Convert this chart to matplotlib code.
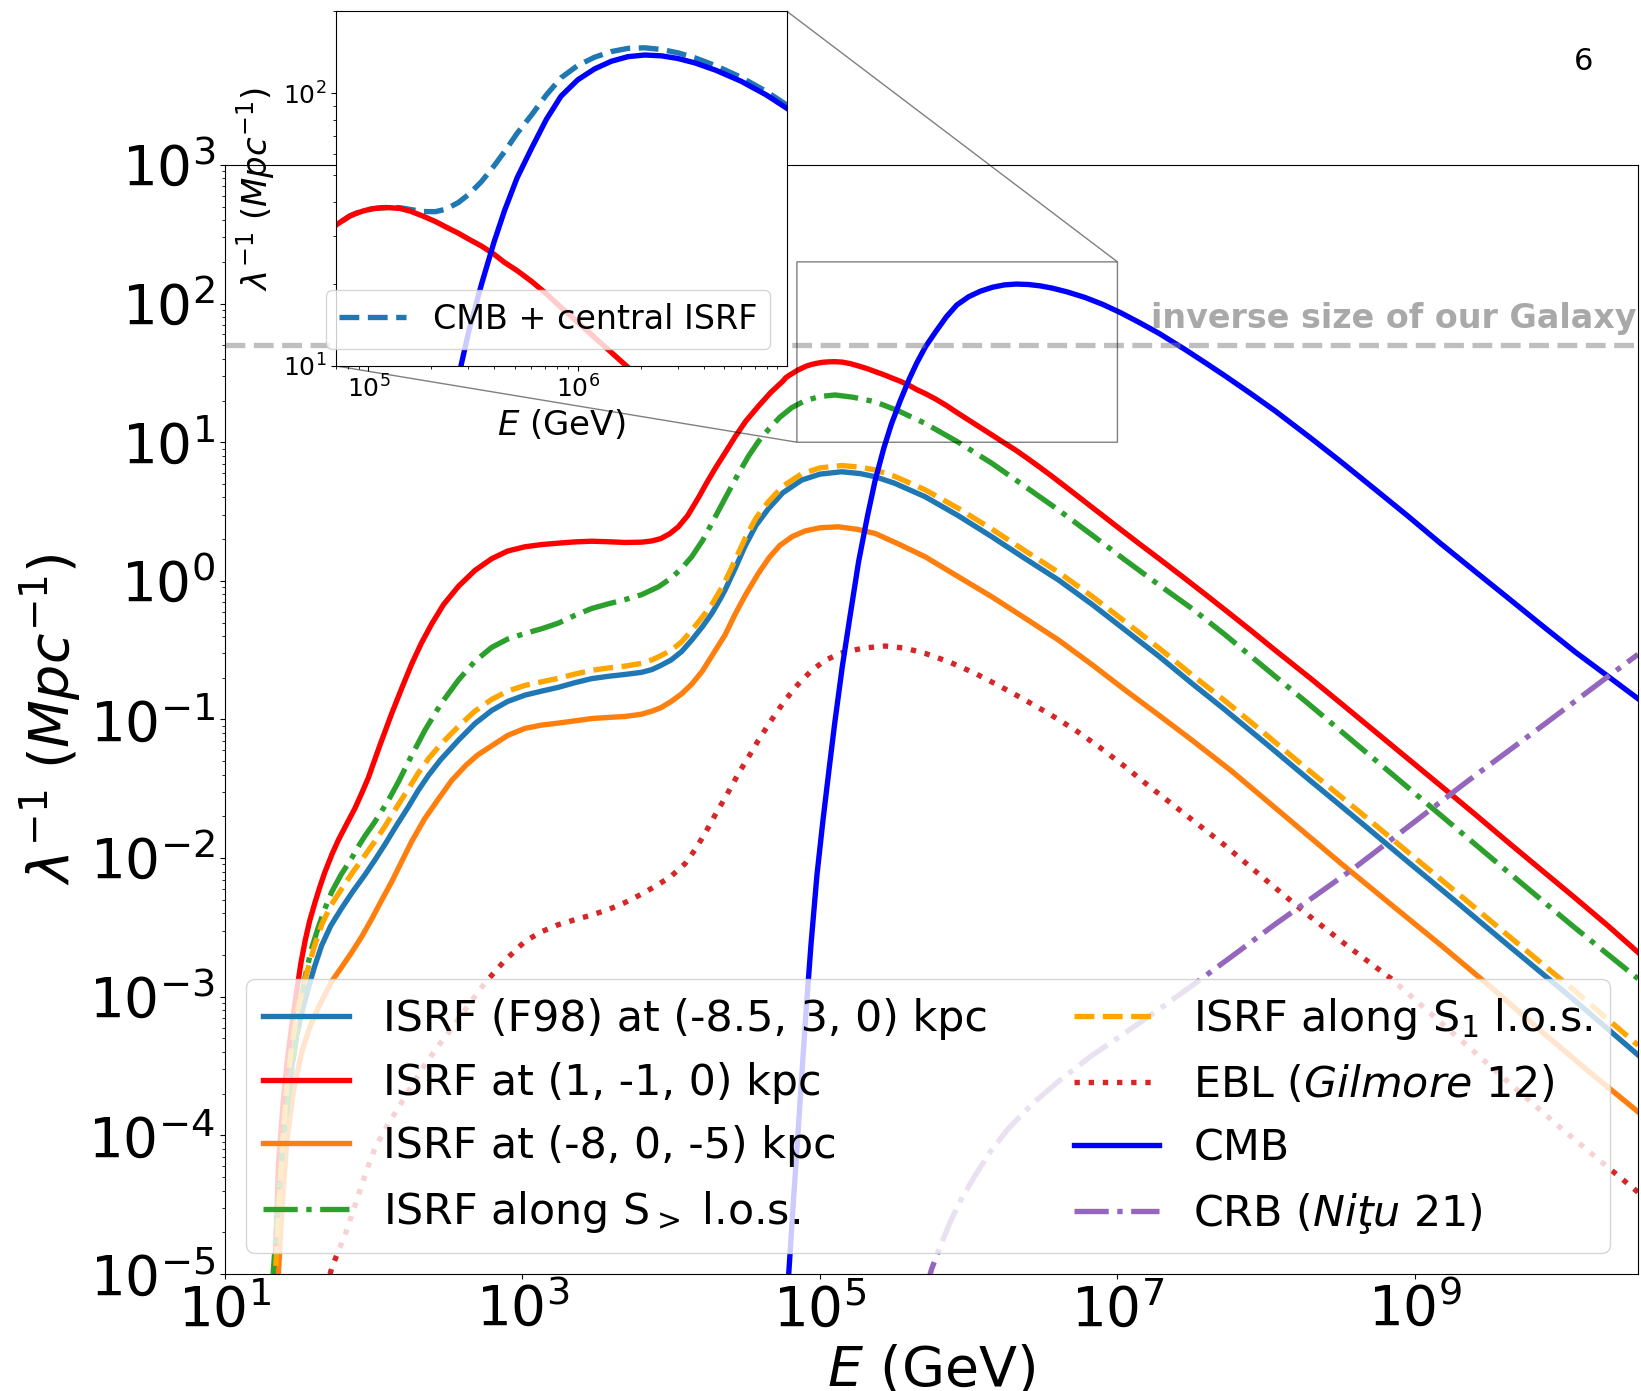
import numpy as np
import matplotlib
matplotlib.use("Agg")
import matplotlib.pyplot as plt

# ---- data: log10(E / GeV) and log10(lambda^-1 / Mpc^-1) for each photon field ----

# ISRF (F98) at (-8.5, 3, 0) kpc, and ISRF along the S1 line of sight (same energies)
loge_f98 = [1.32, 1.347, 1.370, 1.39, 1.415, 1.45, 1.482, 1.52, 1.560, 1.60,
            1.650, 1.71, 1.785, 1.86, 1.941, 2.01, 2.076, 2.15, 2.233, 2.30,
            2.37, 2.45, 2.569, 2.68, 2.793, 2.90, 3.017, 3.13, 3.241, 3.35,
            3.466, 3.58, 3.690, 3.80, 3.87, 3.93, 4.00, 4.07, 4.138, 4.21,
            4.273, 4.33, 4.362, 4.43, 4.496, 4.57, 4.653, 4.75, 4.877, 5.00,
            5.146, 5.27, 5.371, 5.50, 5.707, 5.93, 6.156, 6.38, 6.604, 6.83,
            7.052, 7.28, 7.501, 7.725, 8.00, 8.25, 8.60, 8.953, 9.30, 9.626,
            10.05, 10.5]
logl_f98 = [-5.5, -5.0, -4.53, -4.17, -3.81, -3.50, -3.28, -3.10, -2.94, -2.79,
            -2.63, -2.49, -2.36, -2.24, -2.12, -2.01, -1.90, -1.77, -1.63, -1.51,
            -1.40, -1.29, -1.15, -1.03, -0.935, -0.87, -0.824, -0.795, -0.768, -0.735,
            -0.705, -0.688, -0.675, -0.66, -0.64, -0.61, -0.57, -0.51, -0.427, -0.33,
            -0.235, -0.13, -0.066, 0.09, 0.25, 0.40, 0.52, 0.635, 0.727, 0.77,
            0.787, 0.774, 0.751, 0.705, 0.607, 0.47, 0.318, 0.16, 0.006, -0.17,
            -0.355, -0.545, -0.740, -0.932, -1.175, -1.40, -1.71, -2.027, -2.335, -2.628,
            -3.005, -3.42]
logl_s1 = [-5.35, -4.85, -4.38, -4.02, -3.66, -3.35, -3.13, -2.95, -2.79, -2.64,
           -2.48, -2.345, -2.22, -2.10, -1.98, -1.875, -1.77, -1.64, -1.50, -1.385,
           -1.28, -1.18, -1.05, -0.94, -0.855, -0.795, -0.754, -0.728, -0.703, -0.673,
           -0.645, -0.628, -0.615, -0.595, -0.57, -0.54, -0.50, -0.44, -0.357, -0.26,
           -0.17, -0.067, -0.004, 0.15, 0.305, 0.453, 0.571, 0.682, 0.772, 0.815,
           0.832, 0.82, 0.80, 0.755, 0.657, 0.523, 0.373, 0.216, 0.062, -0.112,
           -0.295, -0.485, -0.678, -0.867, -1.11, -1.335, -1.642, -1.957, -2.265, -2.558,
           -2.935, -3.35]

# central ISRF at (1, -1, 0) kpc
loge_central = [1.32, 1.336, 1.36, 1.392, 1.42, 1.45, 1.482, 1.51, 1.54, 1.57,
                1.605, 1.64, 1.672, 1.72, 1.762, 1.82, 1.874, 1.92, 1.964, 2.04,
                2.121, 2.19, 2.255, 2.32, 2.390, 2.47, 2.569, 2.68, 2.793, 2.90,
                3.017, 3.13, 3.241, 3.35, 3.466, 3.58, 3.690, 3.80, 3.87, 3.93,
                3.99, 4.048, 4.11, 4.183, 4.24, 4.295, 4.36, 4.43, 4.50, 4.586,
                4.67, 4.75,
                4.77, 4.79, 4.82, 4.85, 4.88, 4.91, 4.94, 4.98, 5.02, 5.06,
                5.10, 5.15, 5.20, 5.26, 5.32, 5.37, 5.43, 5.48, 5.54, 5.60,
                5.65, 5.71, 5.78, 5.85, 5.92, 6.00, 6.08, 6.16, 6.24, 6.32,
                6.40, 6.48, 6.56, 6.66, 6.78, 6.90, 7.02, 7.15, 7.28, 7.45,
                7.60, 7.73, 7.90, 8.06, 8.30, 8.51, 8.73, 8.95, 9.17, 9.40,
                9.62, 9.85, 10.08, 10.30, 10.5]
logl_central = [-5.5, -4.99, -4.2, -3.75, -3.45, -3.2, -2.96, -2.76, -2.59, -2.45,
                -2.32, -2.20, -2.10, -1.97, -1.87, -1.75, -1.64, -1.53, -1.42, -1.19,
                -0.956, -0.77, -0.60, -0.45, -0.31, -0.17, -0.04, 0.075, 0.16, 0.215,
                0.246, 0.262, 0.272, 0.281, 0.286, 0.282, 0.277, 0.279, 0.288, 0.305,
                0.34, 0.39, 0.47, 0.60, 0.71, 0.81, 0.92, 1.04, 1.15, 1.26,
                1.36, 1.44,
                1.465, 1.48, 1.50, 1.52, 1.535, 1.55, 1.56, 1.57, 1.577, 1.580,
                1.581, 1.578, 1.568, 1.55, 1.53, 1.51, 1.487, 1.465, 1.44, 1.41,
                1.38, 1.35, 1.31, 1.265, 1.215, 1.16, 1.105, 1.05, 0.995, 0.94,
                0.88, 0.818, 0.754, 0.672, 0.572, 0.472, 0.372, 0.265, 0.16, 0.02,
                -0.105, -0.215, -0.36, -0.50, -0.705, -0.89, -1.085, -1.28, -1.475, -1.68,
                -1.88, -2.085, -2.29, -2.49, -2.68]

# CMB (energies shared with the upper part of the central ISRF)
loge_cmb = [4.77, 4.79, 4.82, 4.85, 4.88, 4.91, 4.94, 4.98, 5.02, 5.06,
            5.10, 5.15, 5.20, 5.26, 5.32, 5.37, 5.43, 5.48, 5.54, 5.60,
            5.65, 5.71, 5.78, 5.85, 5.92, 6.00, 6.08, 6.16, 6.24, 6.32,
            6.40, 6.48, 6.56, 6.66, 6.78, 6.90, 7.02, 7.15, 7.28, 7.45,
            7.60, 7.73, 7.90, 8.06, 8.30, 8.51, 8.73, 8.95, 9.17, 9.40,
            9.62, 9.85, 10.08, 10.30, 10.5]
logl_cmb = [-5.45, -5.0, -4.5, -4.02, -3.53, -3.05, -2.62, -2.12, -1.73, -1.37,
            -1.02, -0.62, -0.27, 0.14, 0.47, 0.72, 0.96, 1.13, 1.30, 1.455,
            1.57, 1.69, 1.80, 1.905, 1.99, 2.05, 2.09, 2.118, 2.135, 2.141,
            2.138, 2.128, 2.112, 2.085, 2.045, 1.995, 1.935, 1.862, 1.785, 1.672,
            1.567, 1.474, 1.348, 1.226, 1.03, 0.853, 0.662, 0.47, 0.272, 0.072,
            -0.118, -0.318, -0.515, -0.69, -0.85]

# ISRF at (-8, 0, -5) kpc
loge_halo = [1.34, 1.359, 1.385, 1.415, 1.46, 1.516, 1.57, 1.627, 1.717, 1.785,
             1.852, 1.92, 1.986, 2.05, 2.121, 2.19, 2.255, 2.34, 2.434, 2.524,
             2.62, 2.70, 2.793, 2.90, 3.017, 3.13, 3.241, 3.35, 3.466, 3.58,
             3.690, 3.80, 3.87, 3.93, 4.00, 4.07, 4.138, 4.21, 4.28, 4.362,
             4.43, 4.50, 4.586, 4.66, 4.73, 4.811, 4.90, 5.00, 5.124, 5.25,
             5.371, 5.53, 5.707, 5.93, 6.156, 6.38, 6.604, 6.83, 7.052, 7.28,
             7.501, 7.765, 8.13, 8.505, 8.84, 9.177, 9.51, 9.851, 10.17, 10.5]
logl_halo = [-5.5, -5.0, -4.5, -4.05, -3.68, -3.40, -3.22, -3.08, -2.89, -2.785,
             -2.68, -2.565, -2.44, -2.31, -2.17, -2.02, -1.88, -1.72, -1.575, -1.44,
             -1.33, -1.255, -1.19, -1.115, -1.064, -1.04, -1.026, -1.01, -0.993, -0.985,
             -0.978, -0.962, -0.94, -0.915, -0.87, -0.815, -0.745, -0.65, -0.53, -0.39,
             -0.24, -0.10, 0.054, 0.17, 0.255, 0.318, 0.36, 0.383, 0.390, 0.372,
             0.342, 0.265, 0.174, 0.03, -0.115, -0.27, -0.427, -0.605, -0.788, -0.97,
             -1.149, -1.37, -1.70, -2.04, -2.335, -2.63, -2.93, -3.25, -3.54, -3.83]

# ISRF along the S> line of sight
loge_sgt = [1.30, 1.325, 1.36, 1.392, 1.425, 1.459, 1.50, 1.538, 1.58, 1.627,
            1.67, 1.717, 1.78, 1.852, 1.90, 1.941, 2.00, 2.054, 2.11, 2.166,
            2.25, 2.345, 2.45, 2.569, 2.68, 2.793, 2.90, 3.017, 3.13, 3.241,
            3.35, 3.466, 3.58, 3.690, 3.80, 3.914, 4.00, 4.07, 4.138, 4.21,
            4.273, 4.362, 4.45, 4.52, 4.586, 4.66, 4.73, 4.811, 4.90, 5.00,
            5.102, 5.22, 5.371, 5.53, 5.707, 5.93, 6.156, 6.38, 6.604, 6.83,
            7.052, 7.28, 7.501, 7.725, 8.00, 8.281, 8.57, 8.864, 9.25, 9.626,
            10.05, 10.5]
logl_sgt = [-5.5, -4.98, -4.45, -4.05, -3.73, -3.45, -3.12, -2.86, -2.66, -2.50,
            -2.37, -2.245, -2.12, -2.00, -1.91, -1.84, -1.75, -1.66, -1.56, -1.45,
            -1.27, -1.076, -0.89, -0.716, -0.58, -0.48, -0.42, -0.379, -0.345, -0.305,
            -0.25, -0.199, -0.165, -0.135, -0.10, -0.043, 0.02, 0.09, 0.174, 0.29,
            0.415, 0.595, 0.77, 0.90, 1.005, 1.10, 1.18, 1.25, 1.30, 1.33,
            1.341, 1.325, 1.292, 1.225, 1.136, 1.0, 0.848, 0.68, 0.511, 0.33,
            0.150, -0.03, -0.20, -0.39, -0.635, -0.884, -1.145, -1.41, -1.76, -2.10,
            -2.48, -2.87]

# EBL (Gilmore et al. 2012)
loge_ebl = [1.68, 1.717, 1.76, 1.807, 1.86, 1.919, 1.96, 2.009, 2.08, 2.166,
            2.25, 2.345, 2.43, 2.524, 2.63, 2.748, 2.88, 3.017, 3.13, 3.241,
            3.35, 3.466, 3.58, 3.690, 3.80, 3.914, 4.00, 4.093, 4.16, 4.228,
            4.30, 4.37, 4.452, 4.52, 4.586, 4.67, 4.766, 4.85, 4.945, 5.04,
            5.146, 5.29, 5.438, 5.57, 5.707, 5.87, 6.043, 6.21, 6.380, 6.55,
            6.716, 6.88, 7.052, 7.182, 7.45, 7.720, 8.0, 8.281, 8.56, 8.841,
            9.12, 9.401, 9.68, 9.962, 10.23, 10.5]
logl_ebl = [-5.1, -4.96, -4.84, -4.72, -4.55, -4.36, -4.23, -4.09, -3.95, -3.80,
            -3.65, -3.49, -3.36, -3.23, -3.07, -2.90, -2.74, -2.60, -2.53, -2.48,
            -2.445, -2.41, -2.37, -2.32, -2.26, -2.19, -2.13, -2.04, -1.94, -1.82,
            -1.68, -1.55, -1.39, -1.27, -1.15, -1.01, -0.86, -0.75, -0.645, -0.57,
            -0.52, -0.485, -0.470, -0.485, -0.523, -0.585, -0.667, -0.76, -0.860, -0.965,
            -1.076, -1.20, -1.341, -1.455, -1.68, -1.906, -2.16, -2.41, -2.645, -2.87,
            -3.135, -3.40, -3.665, -3.93, -4.17, -4.41]

# CRB (Nitu et al. 2021)
loge_crb = [5.70, 5.752, 5.82, 5.886, 5.96, 6.043, 6.15, 6.267, 6.43, 6.604,
            6.82, 7.052, 7.28, 7.501, 7.78, 8.056, 8.594, 9.36, 9.851, 10.298,
            10.5]
logl_crb = [-5.15, -4.96, -4.77, -4.60, -4.44, -4.29, -4.11, -3.95, -3.77, -3.61,
            -3.43, -3.26, -3.09, -2.92, -2.70, -2.48, -2.07, -1.44, -1.05, -0.69,
            -0.53]

galaxy_inverse_size = 50.0  # Mpc^-1

labels = [
    'ISRF (F98) at (-8.5, 3, 0) kpc',
    'ISRF at (1, -1, 0) kpc',
    'ISRF at (-8, 0, -5) kpc',
    r'ISRF along S$_{>}$ l.o.s.',
    r'ISRF along S$_1$ l.o.s.',
    r'EBL ($Gilmore$ 12)',
    'CMB',
    r'CRB ($Niţu$ 21)',
]


def pw(a):
    return 10.0 ** np.asarray(a, dtype=float)


fig = plt.figure(figsize=(16.41, 13.91), dpi=100)
ax = fig.add_axes([0.1371, 0.0841, 0.8611, 0.7973])

LW = 3.85
ax.plot(pw(loge_f98), pw(logl_f98), color='tab:blue', lw=LW, label=labels[0])
ax.plot(pw(loge_central), pw(logl_central), color='red', lw=LW, label=labels[1])
ax.plot(pw(loge_halo), pw(logl_halo), color='tab:orange', lw=LW, label=labels[2])
ax.plot(pw(loge_sgt), pw(logl_sgt), color='tab:green', ls='-.', lw=LW, label=labels[3])
ax.plot(pw(loge_f98), pw(logl_s1), color='orange', ls='--', lw=LW, label=labels[4])
ax.plot(pw(loge_ebl), pw(logl_ebl), color='tab:red', ls=':', lw=LW, label=labels[5])
ax.plot(pw(loge_cmb), pw(logl_cmb), color='blue', lw=LW, label=labels[6])
ax.plot(pw(loge_crb), pw(logl_crb), color='tab:purple', ls='-.', lw=LW, label=labels[7])

ax.axhline(galaxy_inverse_size, color='grey', alpha=0.5, ls='--', lw=LW)
ax.text(0.999, 67, 'inverse size of our Galaxy',
        transform=ax.get_yaxis_transform(), ha='right', va='baseline',
        color='darkgrey', fontweight='bold', fontsize=24)

ax.set_xscale('log')
ax.set_yscale('log')
ax.set_xlim(10, 10 ** 10.5)
ax.set_ylim(1e-5, 1e3)
ax.set_xticks([1e1, 1e3, 1e5, 1e7, 1e9])
ax.set_yticks([10.0 ** k for k in range(-5, 4)])
ax.tick_params(axis='both', which='major', labelsize=39.5)
ax.set_xlabel(r'$E$ (GeV)', fontsize=40)
ax.set_ylabel(r'$\lambda^{-1}\ (Mpc^{-1})$', fontsize=40)
ax.legend(loc='lower left', ncol=2, fontsize=30.8)

# zoom on the CMB peak together with the central ISRF
axins = fig.add_axes([0.2048, 0.7369, 0.2748, 0.2549])
e_cmb = pw(loge_cmb)
idx = [loge_central.index(v) for v in loge_cmb]
central_on_cmb = pw(logl_central)[idx]
axins.plot(e_cmb, pw(logl_cmb) + central_on_cmb, color='tab:blue', ls='--', lw=LW,
           label='CMB + central ISRF')
axins.plot(pw(loge_central), pw(logl_central), color='red', lw=LW)
axins.plot(e_cmb, pw(logl_cmb), color='blue', lw=LW)
axins.set_xscale('log')
axins.set_yscale('log')
axins.set_xlim(7e4, 1e7)
axins.set_ylim(10, 200)
axins.set_xticks([1e5, 1e6])
axins.set_yticks([1e1, 1e2])
axins.tick_params(axis='both', which='major', labelsize=18)
axins.set_xlabel(r'$E$ (GeV)', fontsize=24.5)
axins.set_ylabel(r'$\lambda^{-1}\ (Mpc^{-1})$', fontsize=24.5)
axins.legend(loc='lower right', fontsize=24)

ind = ax.indicate_inset_zoom(axins, edgecolor='black')
for conn, shown in zip(ind.connectors, [True, False, False, True]):
    conn.set_visible(shown)

fig.text(1584 / 1641, 1 - 61 / 1391, '6', fontsize=22, ha='center', va='center')

fig.savefig('out.png', dpi=100)
